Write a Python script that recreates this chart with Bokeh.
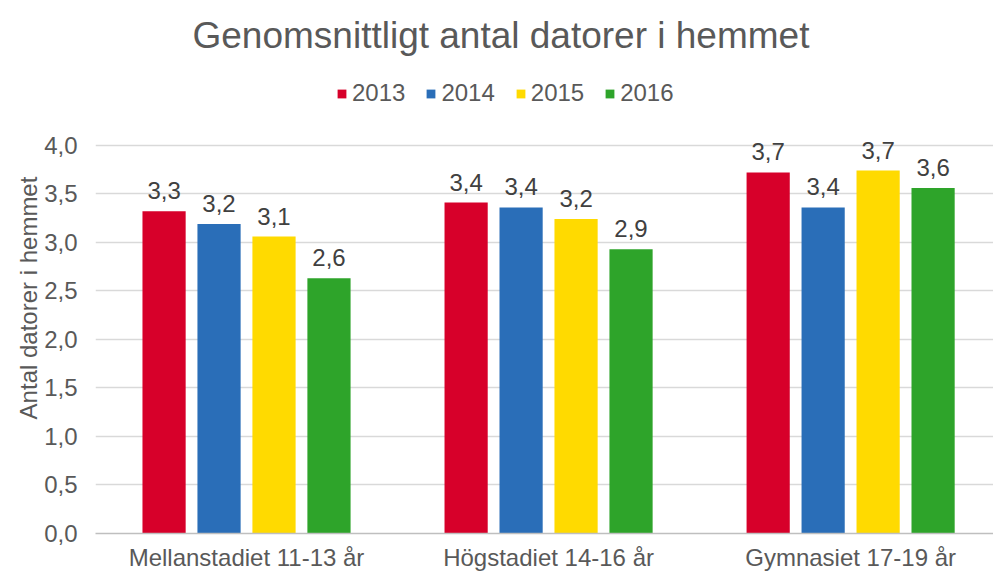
from bokeh.plotting import figure
from bokeh.models import (ColumnDataSource, FixedTicker, Legend, LegendItem,
                          LabelSet, Title)
from bokeh.core.properties import value
from bokeh.embed import file_html
from bokeh.resources import INLINE

categories = ["Mellanstadiet 11-13 år", "Högstadiet 14-16 år", "Gymnasiet 17-19 år"]
years = ["2013", "2014", "2015", "2016"]
values_2013 = [3.32, 3.41, 3.72]
values_2014 = [3.19, 3.36, 3.36]
values_2015 = [3.06, 3.24, 3.74]
values_2016 = [2.63, 2.93, 3.56]
series = [values_2013, values_2014, values_2015, values_2016]
colors = ["#D7002A", "#2A6EB8", "#FFDA00", "#2EA42A"]
y_ticks = [0.0, 0.5, 1.0, 1.5, 2.0, 2.5, 3.0, 3.5, 4.0]

FONT = "Liberation Sans"
GREY = "#595959"

p = figure(width=993, height=573, output_backend="svg", toolbar_location=None,
           x_range=(-0.5, 2.473), y_range=(0, 4.853),
           min_border_left=95, min_border_right=0, min_border_top=62,
           min_border_bottom=39)
p.outline_line_color = None

step = 0.182
bw = 0.143
items = []
for i, (yr, vals, col) in enumerate(zip(years, series, colors)):
    off = (i - 1.5) * step
    xs = [k + off for k in range(len(categories))]
    labels = [f"{v:.1f}".replace(".", ",") for v in vals]
    src = ColumnDataSource(dict(x=xs, top=vals, lab=labels))
    r = p.vbar(x="x", top="top", width=bw, source=src, fill_color=col,
               line_color=None)
    items.append(LegendItem(label=yr, renderers=[r]))
    p.add_layout(LabelSet(x="x", y="top", text="lab", source=src,
                          text_align="center", text_baseline="bottom",
                          y_offset=12, text_font=value(FONT),
                          text_font_size=value("24px"),
                          text_color=value("#404040")))

# axes
p.xaxis.ticker = FixedTicker(ticks=[0, 1, 2])
p.xaxis.major_label_overrides = {0: categories[0], 1: categories[1], 2: categories[2]}
p.xaxis.major_label_text_font = FONT
p.xaxis.major_label_text_font_size = "24px"
p.xaxis.major_label_text_color = GREY
p.xaxis.major_tick_line_color = None
p.xaxis.major_tick_out = 0
p.xaxis.major_tick_in = 0
p.xaxis.minor_tick_line_color = None
p.xaxis.minor_tick_out = 0
p.xaxis.axis_line_color = "#BFBFBF"
p.xaxis.axis_line_width = 1.3
p.xaxis.major_label_standoff = 10
p.xgrid.grid_line_color = None

p.yaxis.ticker = FixedTicker(ticks=y_ticks)
p.yaxis.major_label_overrides = {t: f"{t:.1f}".replace(".", ",") for t in y_ticks}
p.yaxis.major_label_text_font = FONT
p.yaxis.major_label_text_font_size = "24px"
p.yaxis.major_label_text_color = GREY
p.yaxis.major_tick_line_color = None
p.yaxis.major_tick_out = 0
p.yaxis.major_tick_in = 0
p.yaxis.minor_tick_line_color = None
p.yaxis.minor_tick_out = 0
p.yaxis.axis_line_color = None
p.yaxis.major_label_standoff = 18
p.yaxis.axis_label = "Antal datorer i hemmet"
p.yaxis.axis_label_text_font = FONT
p.yaxis.axis_label_text_font_size = "24px"
p.yaxis.axis_label_text_font_style = "normal"
p.yaxis.axis_label_text_color = GREY
p.yaxis.axis_label_standoff = -1
p.ygrid.grid_line_color = "#D9D9D9"
p.ygrid.grid_line_width = 1.3

legend = Legend(items=items, orientation="horizontal",
                location=(241, 426),
                label_text_font=FONT, label_text_font_size="24px",
                label_text_color=GREY, glyph_width=11, glyph_height=11,
                label_standoff=5, spacing=20, border_line_color=None,
                background_fill_alpha=0, padding=0, margin=0)
p.add_layout(legend, "center")

p.title = Title(text="Genomsnittligt antal datorer i hemmet", align="left",
                offset=97, text_font=FONT, text_font_size="37px",
                text_font_style="normal", text_color=GREY,
                standoff=14)
p.title_location = "above"

open("out.html", "w").write(file_html(p, INLINE))
